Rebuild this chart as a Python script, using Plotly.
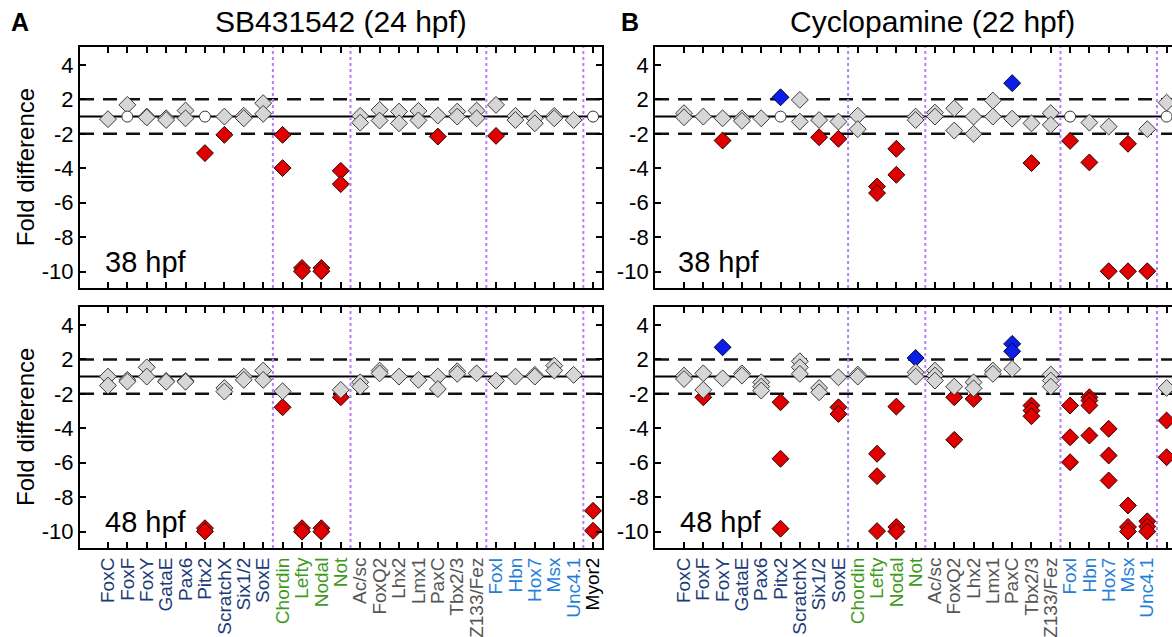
import plotly.graph_objects as go

GENES = ["FoxC", "FoxF", "FoxY", "GataE", "Pax6", "Pitx2", "ScratchX", "Six1/2", "SoxE",
         "Chordin", "Lefty", "Nodal", "Not",
         "Ac/sc", "FoxQ2", "Lhx2", "Lmx1", "PaxC", "Tbx2/3", "Z133/Fez",
         "FoxI", "Hbn", "Hox7", "Msx", "Unc4.1", "Myor2"]
GENE_COLORS = ["#1b3a78"] * 9 + ["#3f9a1c"] * 4 + ["#555555"] * 7 + ["#1f80d8"] * 5 + ["#000000"]
GROUP_BOUNDARIES = [8.5, 12.5, 19.5, 24.5]
Y_TICK_FOLDS = [4, 2, -2, -4, -6, -8, -10]
THRESHOLD_FOLDS = [2, -2]

# ---- Panel A (SB431542), 38 hpf ----
A38_GRAY_G = ["FoxC", "FoxF", "FoxY", "FoxY", "GataE", "GataE", "Pax6", "Pax6", "ScratchX",
              "Six1/2", "Six1/2", "SoxE", "SoxE", "Ac/sc", "Ac/sc", "FoxQ2", "FoxQ2", "Lhx2", "Lhx2",
              "Lmx1", "Lmx1", "PaxC", "Tbx2/3", "Tbx2/3", "Z133/Fez", "Z133/Fez", "FoxI", "Hbn", "Hbn",
              "Hox7", "Hox7", "Msx", "Msx", "Unc4.1"]
A38_GRAY_V = [-1.15, 1.68, 1.0, -1.05, -1.1, -1.2, 1.35, -1.1, 1.0,
              1.05, -1.1, 1.78, 1.16, 1.04, -1.35, 1.39, -1.23, 1.29, -1.39,
              1.33, -1.22, 1.06, 1.29, 1.0, 1.35, -1.1, 1.68, 1.04, -1.2,
              -1.1, -1.39, 1.04, -1.1, -1.2]
A38_RED_G = ["Pitx2", "ScratchX", "Chordin", "Chordin", "Lefty", "Lefty", "Nodal", "Nodal",
             "Not", "Not", "PaxC", "FoxI"]
A38_RED_V = [-3.12, -2.06, -2.06, -3.99, -9.79, -9.98, -9.79, -9.98, -4.15, -4.92, -2.16, -2.12]
A38_BLUE_G = []
A38_BLUE_V = []
A38_OPEN_G = ["FoxF", "Pitx2", "Myor2"]
A38_OPEN_V = [1.0, 1.0, 1.0]

# ---- Panel A (SB431542), 48 hpf ----
A48_GRAY_G = ["FoxC", "FoxC", "FoxF", "FoxF", "FoxY", "FoxY", "GataE", "GataE", "Pax6", "Pax6",
              "ScratchX", "ScratchX", "Six1/2", "Six1/2", "SoxE", "SoxE", "Chordin", "Not",
              "Ac/sc", "Ac/sc", "FoxQ2", "FoxQ2", "Lhx2", "Lmx1", "PaxC", "PaxC", "Tbx2/3", "Tbx2/3",
              "Z133/Fez", "FoxI", "Hbn", "Hox7", "Hox7", "Msx", "Msx", "Unc4.1"]
A48_GRAY_V = [1.0, -1.52, -1.19, -1.29, 1.54, 1.0, -1.25, -1.3, -1.25, -1.3,
              -1.66, -1.87, 1.0, -1.19, 1.35, -1.19, -1.85, -1.77,
              -1.33, -1.58, 1.35, 1.19, 1.0, -1.19, 1.0, -1.72, 1.31, 1.16,
              1.19, -1.23, 1.0, 1.1, 1.0, 1.64, 1.35, 1.1]
A48_RED_G = ["Pitx2", "Pitx2", "Chordin", "Lefty", "Lefty", "Nodal", "Nodal", "Not", "Myor2", "Myor2"]
A48_RED_V = [-9.8, -9.99, -2.78, -9.8, -10.0, -9.8, -10.0, -2.2, -8.79, -9.95]
A48_BLUE_G = []
A48_BLUE_V = []
A48_OPEN_G = []
A48_OPEN_V = []

# ---- Panel B (Cyclopamine), 38 hpf ----
B38_GRAY_G = ["FoxC", "FoxC", "FoxF", "FoxY", "GataE", "GataE", "Pax6", "ScratchX", "ScratchX",
              "Six1/2", "SoxE", "Chordin", "Chordin", "Not", "Not", "Ac/sc", "Ac/sc", "FoxQ2", "FoxQ2",
              "Lhx2", "Lhx2", "Lmx1", "Lmx1", "PaxC", "Tbx2/3", "Z133/Fez", "Z133/Fez", "Hbn", "Hox7",
              "Unc4.1", "Myor2"]
B38_GRAY_V = [1.2, -1.04, 1.0, -1.1, -1.1, -1.25, -1.1, 1.97, -1.29,
              -1.2, -1.29, 1.05, -1.73, 1.0, -1.2, 1.23, 1.0, 1.48, -1.81,
              1.0, -2.0, 1.93, 1.0, -1.12, -1.39, 1.2, -1.48, -1.35, -1.58,
              -1.73, 1.81]
B38_RED_G = ["FoxY", "Six1/2", "SoxE", "Lefty", "Lefty", "Nodal", "Nodal", "Tbx2/3", "FoxI", "Hbn",
             "Hox7", "Msx", "Msx", "Unc4.1"]
B38_RED_V = [-2.39, -2.2, -2.29, -5.06, -5.44, -2.87, -4.38, -3.7, -2.41, -3.66,
             -9.98, -2.58, -9.98, -9.98]
B38_BLUE_G = ["Pitx2", "PaxC"]
B38_BLUE_V = [2.12, 2.94]
B38_OPEN_G = ["Pitx2", "FoxI", "Myor2"]
B38_OPEN_V = [1.0, 1.0, 1.0]

# ---- Panel B (Cyclopamine), 48 hpf ----
B48_GRAY_G = ["FoxC", "FoxC", "FoxF", "FoxF", "FoxY", "GataE", "GataE", "Pax6", "Pax6", "Pax6",
              "ScratchX", "ScratchX", "ScratchX", "Six1/2", "Six1/2", "SoxE", "Chordin", "Chordin",
              "Not", "Not", "Ac/sc", "Ac/sc", "Ac/sc", "FoxQ2", "Lhx2", "Lhx2", "Lmx1", "Lmx1", "PaxC",
              "Z133/Fez", "Z133/Fez", "Z133/Fez", "Myor2"]
B48_GRAY_V = [1.06, -1.14, 1.19, -1.77, -1.1, 1.19, 1.06, -1.33, -1.58, -1.81,
              1.89, 1.54, 1.16, -1.66, -1.91, -1.04, 1.12, 1.0,
              1.25, 1.0, 1.35, 1.06, -1.23, -1.58, -1.33, -1.68, 1.35, 1.16, 1.45,
              1.12, -1.23, -1.58, -1.66]
B48_RED_G = ["FoxF", "Pitx2", "Pitx2", "Pitx2", "SoxE", "SoxE", "Lefty", "Lefty", "Lefty",
             "Nodal", "Nodal", "Nodal", "FoxQ2", "FoxQ2", "Lhx2", "Tbx2/3", "Tbx2/3", "Tbx2/3",
             "FoxI", "FoxI", "FoxI", "Hbn", "Hbn", "Hbn", "Hbn", "Hox7", "Hox7", "Hox7",
             "Msx", "Msx", "Msx", "Unc4.1", "Unc4.1", "Unc4.1", "Myor2", "Myor2"]
B48_RED_V = [-2.2, -2.49, -5.77, -9.83, -2.78, -3.17, -5.48, -6.78, -9.97,
             -2.74, -9.73, -9.99, -2.2, -4.67, -2.29, -2.68, -2.97, -3.3,
             -2.68, -4.52, -5.97, -2.2, -2.39, -2.68, -4.42, -4.03, -5.58, -7.03,
             -8.48, -9.73, -9.99, -9.4, -9.7, -9.99, -3.55, -5.68]
B48_BLUE_G = ["FoxY", "Not", "PaxC", "PaxC"]
B48_BLUE_V = [2.7, 2.08, 2.9, 2.47]
B48_OPEN_G = []
B48_OPEN_V = []


def pos(v):
    # fold-difference axis: +1 and -1 both sit on the "no change" line
    if v >= 1:
        return v - 1
    if v <= -1:
        return v + 1
    return 0.0


FONT = "Liberation Sans, Arial, sans-serif"
fig = go.Figure()

STYLES = {
    "red": dict(symbol="diamond", size=13, color="#e00000", line=dict(color="#2a0000", width=1)),
    "blue": dict(symbol="diamond", size=13, color="#0a1ee6", line=dict(color="#000040", width=1)),
    "gray": dict(symbol="diamond", size=13, color="#d6d6d6", line=dict(color="#3a3a3a", width=1)),
    "open": dict(symbol="circle", size=11, color="#ffffff", line=dict(color="#333333", width=1)),
}

panels = [
    ("x", "y", [("red", A38_RED_G, A38_RED_V), ("blue", A38_BLUE_G, A38_BLUE_V),
                ("gray", A38_GRAY_G, A38_GRAY_V), ("open", A38_OPEN_G, A38_OPEN_V)]),
    ("x2", "y2", [("red", B38_RED_G, B38_RED_V), ("blue", B38_BLUE_G, B38_BLUE_V),
                  ("gray", B38_GRAY_G, B38_GRAY_V), ("open", B38_OPEN_G, B38_OPEN_V)]),
    ("x3", "y3", [("red", A48_RED_G, A48_RED_V), ("blue", A48_BLUE_G, A48_BLUE_V),
                  ("gray", A48_GRAY_G, A48_GRAY_V), ("open", A48_OPEN_G, A48_OPEN_V)]),
    ("x4", "y4", [("red", B48_RED_G, B48_RED_V), ("blue", B48_BLUE_G, B48_BLUE_V),
                  ("gray", B48_GRAY_G, B48_GRAY_V), ("open", B48_OPEN_G, B48_OPEN_V)]),
]

for xa, ya, series in panels:
    for style, genes, vals in series:
        if not genes:
            continue
        fig.add_trace(go.Scatter(
            x=[GENES.index(g) for g in genes], y=[pos(v) for v in vals],
            mode="markers", marker=STYLES[style], xaxis=xa, yaxis=ya,
            showlegend=False, hoverinfo="skip"))

shapes = []
for xa, ya, _ in panels:
    shapes.append(dict(type="line", xref=xa + " domain", yref=ya, x0=0, x1=1, y0=0, y1=0,
                       line=dict(color="black", width=2), layer="below"))
    for f in THRESHOLD_FOLDS:
        shapes.append(dict(type="line", xref=xa + " domain", yref=ya, x0=0, x1=1,
                           y0=pos(f), y1=pos(f),
                           line=dict(color="#111111", width=2.5, dash="14px,9px"), layer="below"))
    for b in GROUP_BOUNDARIES:
        shapes.append(dict(type="line", xref=xa, yref=ya + " domain", x0=b, x1=b, y0=0, y1=1,
                           line=dict(color="#b77dff", width=2, dash="dot"), layer="below"))

ticktext = ['<span style="color:%s">%s</span>' % (c, g) for g, c in zip(GENES, GENE_COLORS)]

xcommon = dict(showline=True, linecolor="black", linewidth=2, mirror="ticks", ticks="inside",
               ticklen=6, tickwidth=1.5, tickcolor="black", showgrid=False, zeroline=False,
               tickvals=list(range(len(GENES))), ticktext=ticktext, tickangle=-90,
               tickfont=dict(family=FONT, size=19))
ycommon = dict(showline=True, linecolor="black", linewidth=2, ticks="inside",
               ticklen=6, tickwidth=1.5, tickcolor="black", showgrid=False, zeroline=False,
               tickvals=[pos(v) for v in Y_TICK_FOLDS], ticktext=[str(v) for v in Y_TICK_FOLDS],
               tickfont=dict(family=FONT, size=22, color="black"), range=[-9.95, 4.04])

XA = [-1.44, 25.46]
XB = [-1.5, 25.28]
DA = [0, 0.478]
DB = [0.5266, 1]
fig.update_layout(
    width=1172, height=637,
    margin=dict(l=80, r=0, t=47, b=89),
    plot_bgcolor="white", paper_bgcolor="white",
    xaxis=dict(xcommon, domain=DA, anchor="y", range=XA, showticklabels=False),
    xaxis2=dict(xcommon, domain=DB, anchor="y2", range=XB, showticklabels=False),
    xaxis3=dict(xcommon, domain=DA, anchor="y3", range=XA),
    xaxis4=dict(xcommon, domain=DB, anchor="y4", range=XB),
    yaxis=dict(ycommon, domain=[0.519, 1], anchor="x", mirror="ticks"),
    yaxis2=dict(ycommon, domain=[0.519, 1], anchor="x2", mirror=False),
    yaxis3=dict(ycommon, domain=[0, 0.481], anchor="x3", mirror="ticks"),
    yaxis4=dict(ycommon, domain=[0, 0.481], anchor="x4", mirror=False),
    shapes=shapes,
)

ann = []
ann.append(dict(text="SB431542 (24 hpf)", x=0.239, y=1.05, xref="paper", yref="paper",
                showarrow=False, font=dict(family=FONT, size=30, color="black"),
                xanchor="center", yanchor="middle"))
ann.append(dict(text="Cyclopamine (22 hpf)", x=0.781, y=1.05, xref="paper", yref="paper",
                showarrow=False, font=dict(family=FONT, size=30, color="black"),
                xanchor="center", yanchor="middle"))
ann.append(dict(text="<b>A</b>", x=-0.055, y=1.05, xref="paper", yref="paper", showarrow=False,
                font=dict(family=FONT, size=25, color="black"), xanchor="center", yanchor="middle"))
ann.append(dict(text="<b>B</b>", x=0.5037, y=1.05, xref="paper", yref="paper", showarrow=False,
                font=dict(family=FONT, size=25, color="black"), xanchor="center", yanchor="middle"))
for yy in [0.760, 0.2415]:
    ann.append(dict(text="Fold difference", x=-0.0504, y=yy, xref="paper", yref="paper",
                    showarrow=False, textangle=-90, font=dict(family=FONT, size=24, color="black"),
                    xanchor="center", yanchor="middle"))
for xa, ya, lab, x0 in [("x", "y", "38 hpf", -0.25), ("x2", "y2", "38 hpf", -0.41),
                        ("x3", "y3", "48 hpf", -0.25), ("x4", "y4", "48 hpf", -0.3)]:
    ann.append(dict(text=lab, x=x0, y=-8.42, xref=xa, yref=ya, showarrow=False,
                    font=dict(family=FONT, size=29, color="black"), xanchor="left", yanchor="middle"))
fig.update_layout(annotations=ann)

fig.write_html("out.html", config={"displayModeBar": False},
               post_script="document.body.style.margin='0';document.body.style.overflow='hidden';")
